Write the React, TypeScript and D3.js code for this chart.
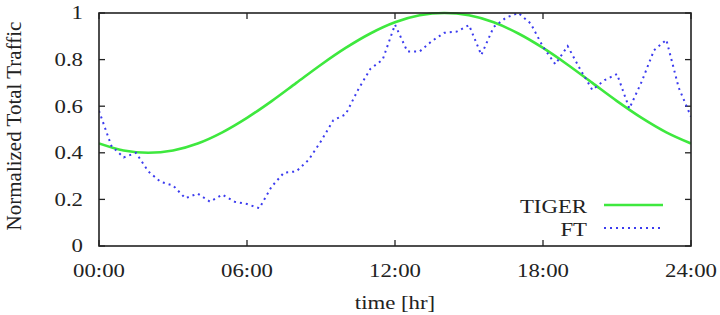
import React from 'react';
import * as d3 from 'd3';

// sample times in hours
const tigerHours = [0, 1, 2, 3, 4, 5, 6, 7, 8, 9, 10, 11, 12, 13, 14, 15, 16, 17, 18, 19, 20, 21, 22, 23, 24];
const tigerValues = [0.44, 0.41, 0.40, 0.41, 0.44, 0.488, 0.55, 0.622, 0.70, 0.778, 0.85, 0.912, 0.96, 0.99, 1.0,
  0.99, 0.96, 0.912, 0.85, 0.778, 0.70, 0.622, 0.55, 0.488, 0.44];

const ftHours = [0, 0.5, 1, 1.5, 2, 2.5, 3, 3.5, 4, 4.5, 5, 5.5, 6, 6.5, 7, 7.5, 8, 8.5, 9, 9.5, 10, 10.5, 11, 11.5,
  12, 12.5, 13, 13.5, 14, 14.5, 15, 15.5, 16, 16.5, 17, 17.5, 18, 18.5, 19, 19.5, 20, 20.5, 21, 21.5, 22, 22.5, 23, 23.5, 24];
const ftValues = [0.58, 0.43, 0.38, 0.40, 0.32, 0.275, 0.26, 0.205, 0.225, 0.19, 0.22, 0.19, 0.18, 0.162, 0.255, 0.315,
  0.32, 0.37, 0.45, 0.54, 0.565, 0.67, 0.76, 0.80, 0.95, 0.835, 0.835, 0.88, 0.915, 0.92, 0.948, 0.82, 0.94, 0.98,
  1.0, 0.955, 0.855, 0.78, 0.858, 0.76, 0.67, 0.712, 0.738, 0.59, 0.705, 0.84, 0.885, 0.68, 0.555];

const xTicks = [0, 6, 12, 18, 24];
const xTickLabels = ['00:00', '06:00', '12:00', '18:00', '24:00'];
const yTicks = [0, 0.2, 0.4, 0.6, 0.8, 1];
const yTickLabels = ['0', '0.2', '0.4', '0.6', '0.8', '1'];

const seriesNames = ['TIGER', 'FT'];

const W = 720, H = 315;
const left = 99, right = 691, top = 13, bottom = 246;
const fs = 19;
const sx = 1.2; // text is drawn a little wide
const tickLen = 6;
const textStyle = { fontFamily: "'Liberation Serif', 'Times New Roman', Times, serif" };

export default function App() {
  const x = d3.scaleLinear().domain([0, 24]).range([left, right]);
  const y = d3.scaleLinear().domain([0, 1]).range([bottom, top]);

  const tigerLine = d3.line<number>()
    .x((_, i) => x(tigerHours[i]))
    .y(d => y(d))
    .curve(d3.curveCatmullRom);
  const ftLine = d3.line<number>()
    .x((_, i) => x(ftHours[i]))
    .y(d => y(d));

  const green = '#3ee83e';
  const blue = '#3b3bef';

  return (
    <svg width={W} height={H} style={{ position: 'fixed', left: 0, top: 0, background: '#fff' }}>
      <defs>
        <clipPath id="plot">
          <rect x={left} y={top - 2} width={right - left} height={bottom - top + 2} />
        </clipPath>
      </defs>

      {/* y ticks on both sides */}
      {yTicks.map((t, i) => (
        <g key={'y' + i}>
          <line x1={left} x2={left + tickLen} y1={y(t)} y2={y(t)} stroke="#222" strokeWidth={1.3} />
          <line x1={right} x2={right - tickLen} y1={y(t)} y2={y(t)} stroke="#222" strokeWidth={1.3} />
          <text style={textStyle} transform={`translate(83,${y(t) + 6.3}) scale(${sx},1)`} textAnchor="end" fontSize={fs} fill="#222">
            {yTickLabels[i]}
          </text>
        </g>
      ))}

      {/* x ticks on top and bottom */}
      {xTicks.map((t, i) => (
        <g key={'x' + i}>
          <line x1={x(t)} x2={x(t)} y1={bottom} y2={bottom - tickLen} stroke="#222" strokeWidth={1.3} />
          <line x1={x(t)} x2={x(t)} y1={top} y2={top + tickLen} stroke="#222" strokeWidth={1.3} />
          <text style={textStyle} transform={`translate(${x(t)},277) scale(${sx},1)`} textAnchor="middle" fontSize={fs} fill="#222">
            {xTickLabels[i]}
          </text>
        </g>
      ))}

      <g clipPath="url(#plot)">
        <path d={tigerLine(tigerValues) ?? ''} fill="none" stroke={green} strokeWidth={2.6} />
        <path d={ftLine(ftValues) ?? ''} fill="none" stroke={blue} strokeWidth={2}
          strokeDasharray="2,4" />
      </g>

      <rect x={left} y={top} width={right - left} height={bottom - top} fill="none" stroke="#222" strokeWidth={1.6} />

      {/* legend */}
      <text style={textStyle} transform={`translate(587,212.5) scale(${sx},1)`} textAnchor="end" fontSize={fs} fill="#222">{seriesNames[0]}</text>
      <line x1={604} x2={663} y1={205} y2={205} stroke={green} strokeWidth={2.6} />
      <text style={textStyle} transform={`translate(587,235.5) scale(${sx},1)`} textAnchor="end" fontSize={fs} fill="#222">{seriesNames[1]}</text>
      <line x1={604} x2={663} y1={228} y2={228} stroke={blue} strokeWidth={2} strokeDasharray="2,4" />

      {/* axis titles */}
      <text style={textStyle} transform={`translate(${(left + right) / 2},309) scale(${sx},1)`} textAnchor="middle" fontSize={fs} fill="#222">
        time [hr]
      </text>
      <text style={textStyle} transform={`translate(21,126) rotate(-90)`} textAnchor="middle" fontSize={21} fill="#222">
        Normalized Total Traffic
      </text>
    </svg>
  );
}
